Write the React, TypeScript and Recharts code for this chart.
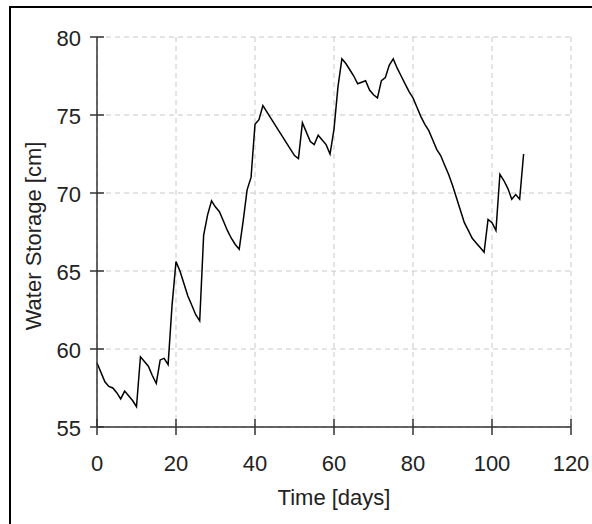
import React from 'react';
import { LineChart, Line, XAxis, YAxis, CartesianGrid, Label } from 'recharts';

const days = [
  0, 1, 2, 3, 4, 5, 6, 7, 8, 9, 10, 11, 12, 13, 14, 15, 16, 17, 18, 19,
  20, 21, 22, 23, 24, 25, 26, 27, 28, 29, 30, 31, 32, 33, 34, 35, 36, 37, 38, 39,
  40, 41, 42, 43, 44, 45, 46, 47, 48, 49, 50, 51, 52, 53, 54, 55, 56, 57, 58, 59,
  60, 61, 62, 63, 64, 65, 66, 67, 68, 69, 70, 71, 72, 73, 74, 75, 76, 77, 78, 79,
  80, 81, 82, 83, 84, 85, 86, 87, 88, 89, 90, 91, 92, 93, 94, 95, 96, 97, 98, 99,
  100, 101, 102, 103, 104, 105, 106, 107, 108,
];

const storage = [
  59.1, 58.5, 57.9, 57.6, 57.5, 57.2, 56.8, 57.3, 57.0, 56.7, 56.3, 59.5, 59.2, 58.9, 58.3, 57.8, 59.3, 59.4, 59.0, 62.8,
  65.6, 65.0, 64.2, 63.4, 62.8, 62.2, 61.8, 67.3, 68.6, 69.5, 69.1, 68.8, 68.2, 67.6, 67.1, 66.7, 66.4, 68.2, 70.2, 71.0,
  74.4, 74.7, 75.6, 75.2, 74.8, 74.4, 74.0, 73.6, 73.2, 72.8, 72.4, 72.2, 74.5, 73.9, 73.3, 73.1, 73.7, 73.4, 73.1, 72.5,
  74.1, 76.8, 78.6, 78.3, 77.9, 77.5, 77.0, 77.1, 77.2, 76.6, 76.3, 76.1, 77.2, 77.4, 78.2, 78.6, 78.0, 77.5, 77.0, 76.5,
  76.1, 75.5, 74.9, 74.4, 74.0, 73.4, 72.8, 72.4, 71.8, 71.2, 70.5, 69.7, 68.9, 68.1, 67.6, 67.1, 66.8, 66.5, 66.2, 68.3,
  68.1, 67.6, 71.2, 70.8, 70.3, 69.6, 69.9, 69.6, 72.5,
];

const xTicks = [0, 20, 40, 60, 80, 100, 120];
const yTicks = [55, 60, 65, 70, 75, 80];

const data = days.map((d, i) => ({ day: d, storage: storage[i] }));

const FONT = "'Liberation Sans', Arial, sans-serif";
const AXIS = '#333';
const TEXT = '#222';

const YTick = ({ x, y, payload }: any) => (
  <g>
    <line x1={x - 7} x2={x + 7} y1={y} y2={y} stroke={AXIS} strokeWidth={1.5} />
    <text x={x - 16} y={y} dy={9} textAnchor="end" fontSize={22} fontFamily={FONT} fill={TEXT}>
      {payload.value}
    </text>
  </g>
);

const XTick = ({ x, y, payload }: any) => (
  <g>
    <line x1={x} x2={x} y1={y - 8} y2={y + 8} stroke={AXIS} strokeWidth={1.5} />
    <text x={x} y={y} dy={44} textAnchor="middle" fontSize={22} fontFamily={FONT} fill={TEXT}>
      {payload.value}
    </text>
  </g>
);

export default function App() {
  return (
    <div style={{ position: 'absolute', left: 0, top: 0, width: 592, height: 524, background: '#fff', overflow: 'hidden' }}>
      <div
        style={{
          position: 'absolute',
          left: 9,
          top: 6,
          right: -10,
          bottom: -10,
          borderTop: '2px solid #000',
          borderLeft: '2px solid #000',
        }}
      />
      <div style={{ position: 'absolute', left: 0, top: 0 }}>
        <LineChart width={592} height={524} data={data} margin={{ top: 37, right: 21, bottom: 0, left: 0 }}>
          <CartesianGrid stroke="#c8c8c8" strokeDasharray="5 4" strokeWidth={1} />
          <XAxis
            dataKey="day"
            type="number"
            domain={[0, 120]}
            ticks={xTicks}
            height={97}
            tickSize={0}
            tickMargin={0}
            tickLine={false}
            axisLine={{ stroke: AXIS, strokeWidth: 1.5 }}
            tick={<XTick />}
            interval={0}
          >
            <Label value="Time [days]" position="center" dy={22} fontSize={22} fontFamily={FONT} fill={TEXT} />
          </XAxis>
          <YAxis
            type="number"
            domain={[55, 80]}
            ticks={yTicks}
            width={97}
            tickSize={0}
            tickMargin={0}
            tickLine={false}
            axisLine={{ stroke: AXIS, strokeWidth: 1.5 }}
            tick={<YTick />}
            interval={0}
          >
            <Label value="Water Storage [cm]" angle={-90} position="center" dx={-15} dy={4} fontSize={22} fontFamily={FONT} fill={TEXT} />
          </YAxis>
          <Line
            dataKey="storage"
            type="linear"
            stroke="#000"
            strokeWidth={1.5}
            dot={false}
            isAnimationActive={false}
          />
        </LineChart>
      </div>
    </div>
  );
}
